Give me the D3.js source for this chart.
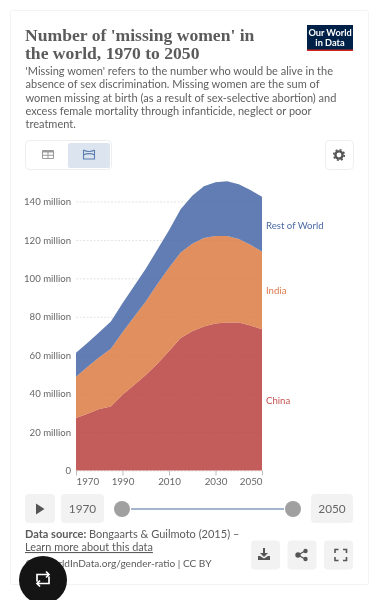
<!DOCTYPE html>
<html><head><meta charset="utf-8">
<script src="https://cdn.jsdelivr.net/npm/d3@7/dist/d3.min.js"></script>
<style>
html,body{margin:0;padding:0;background:#fff;overflow:hidden}
svg{display:block;font-family:Lato,sans-serif;filter:blur(0.35px)}
</style></head><body><svg id="c" width="378" height="600"></svg>
<script>
const years=[1970,1975,1980,1985,1990,1995,2000,2005,2010,2015,2020,2025,2030,2035,2040,2045,2050];
const china=[27.3,29.5,32,33.3,39.4,44.5,49.7,55.5,62,69,72.5,75,76.5,77,77,75.5,73.5];
const india=[21.5,24.5,27,30.1,32.6,35.5,38.3,41.5,43.5,44.5,45.5,46,45.5,45,43.5,42,40.5];
const rest=[12.5,12.5,13,14.1,15,16,17,18,19.5,22.5,25,27,28,28.5,28.5,28.5,28.5];
const seriesNames=["China","India","Rest of World"];
const seriesColors=["#b83e3c","#dc7a40","#4464a4"];
const labelColors=["#c4524f","#dd7a4a","#4c6aa6"];
const labelValues=[36,93,127];
const yTicks=[0,20,40,60,80,100,120,140];
const xTicks=[1970,1990,2010,2030,2050];
const titleLines=["Number of 'missing women' in","the world, 1970 to 2050"];
const subtitleLines=["'Missing women' refers to the number who would be alive in the","absence of sex discrimination. Missing women are the sum of","women missing at birth (as a result of sex-selective abortion) and","excess female mortality through infanticide, neglect or poor","treatment."];

const svg=d3.select("#c");
const x=d3.scaleLinear().domain([1970,2050]).range([76,262]);
const y=d3.scaleLinear().domain([0,140]).range([470.5,201.5]);
const txt=(s,px,py,size,fill,o={})=>svg.append("text").attr("x",px).attr("y",py).attr("font-size",size).attr("fill",fill)
  .attr("text-anchor",o.anchor||"start").attr("font-weight",o.weight||400).attr("font-family",o.family||null).text(s);
const box=(px,py,w,h,o={})=>svg.append("rect").attr("x",px).attr("y",py).attr("width",w).attr("height",h).attr("rx",o.rx==null?4:o.rx)
  .attr("fill",o.fill||"#f2f2f2").attr("stroke",o.stroke||"none");

// card
box(10.5,10.5,358,574,{fill:"#fff",stroke:"#f3f3f3",rx:2});

// header
titleLines.forEach((t,i)=>txt(t,25,40.5+i*18.3,17.6,"#5b5b5b",{weight:700,family:"'Liberation Serif',serif"}));
subtitleLines.forEach((t,i)=>txt(t,25.5,75+i*13.3,11,"#5f5f5f"));
box(307,25,46,26,{fill:"#002147",rx:0});
box(307,49.5,46,1.5,{fill:"#ce261e",rx:0});
txt("Our World",330,36,9.2,"#fff",{anchor:"middle",weight:700});
txt("in Data",330,46,9.2,"#fff",{anchor:"middle",weight:700});

// tabs
box(25.5,140.5,86,29,{fill:"#fff",stroke:"#eeeeee"});
box(68,143,42,25,{fill:"#dce4ef",rx:2});
box(325.5,140.5,28,29,{fill:"#fff",stroke:"#eeeeee"});
// table icon
box(42,150,12,9,{fill:"#9a9a9a",rx:1});
svg.append("path").attr("d","M43 152.500h4.500v2.300h-4.500zM48.500 152.500h4.500v2.300h-4.500zM43 155.800h4.500v2.200h-4.500zM48.500 155.800h4.500v2.200h-4.500z").attr("fill","#fff");
// chart icon
svg.append("path").attr("d","M83.500 150v9h11V150M83.500 150c3 2 8 2 11 0M83.500 155c3-1.800 8-1.800 11 0").attr("fill","none").attr("stroke","#5b7fae").attr("stroke-width",1.1);
// gear
svg.append("circle").attr("cx",339).attr("cy",155).attr("r",3.6).attr("fill","none").attr("stroke","#555").attr("stroke-width",2.4);
svg.append("circle").attr("cx",339).attr("cy",155).attr("r",5.3).attr("fill","none").attr("stroke","#555").attr("stroke-width",1.6).attr("stroke-dasharray","2 2.16");

// gridlines + y axis
const yAxis=svg.append("g").attr("transform","translate(76,0)")
  .call(d3.axisLeft(y).tickValues(yTicks).tickSize(0).tickPadding(5).tickFormat(d=>d===0?"0":d+" million"));
yAxis.select(".domain").remove();
yAxis.selectAll("text").attr("font-size",9.6).attr("fill","#666").attr("font-family","Lato,sans-serif");
yAxis.selectAll("line").attr("x2",186).attr("stroke","#e3e3e3").attr("stroke-dasharray","2 1.500");

// stacked areas
const rows=years.map((yr,i)=>({year:yr,"China":china[i],"India":india[i],"Rest of World":rest[i]}));
const stacked=d3.stack().keys(seriesNames)(rows);
const area=d3.area().x(d=>x(d.data.year)).y0(d=>y(d[0])).y1(d=>y(d[1]));
svg.append("g").selectAll("path").data(stacked).join("path")
  .attr("d",area).attr("fill",(d,i)=>seriesColors[i]).attr("fill-opacity",.84);

// x axis
const xAxis=svg.append("g").attr("transform","translate(0,470.5)")
  .call(d3.axisBottom(x).tickValues(xTicks).tickSize(5).tickPadding(3).tickFormat(d3.format("d")));
xAxis.select(".domain").remove();
xAxis.selectAll("line").attr("stroke","#bdbdbd");
xAxis.selectAll("text").attr("font-size",9.8).attr("fill","#666").attr("font-family","Lato,sans-serif")
  .attr("text-anchor",d=>d===1970?"start":d===2050?"end":"middle");

// series labels
seriesNames.forEach((n,i)=>txt(n,266,y(labelValues[i])+2.5,9.6,labelColors[i]));

// timeline
box(25,494,30,29);
svg.append("path").attr("d","M36 503.500l8.500 5.500-8.500 5.500z").attr("fill","#555");
box(61,494,43,29);
txt("1970",82.500,513,11.800,"#666",{anchor:"middle"});
svg.append("line").attr("x1",131).attr("x2",284).attr("y1",509).attr("y2",509).attr("stroke","#a4b6cd").attr("stroke-width",2);
[122,293].forEach(c=>svg.append("circle").attr("cx",c).attr("cy",509).attr("r",8).attr("fill","#a0a0a0"));
box(311,494,42,29);
txt("2050",332,513,11.800,"#666",{anchor:"middle"});

// footer
const src=txt("",25,538,11,"#5b5b5b");
src.append("tspan").attr("font-weight",700).text("Data source: ");
src.append("tspan").text("Bongaarts & Guilmoto (2015) –");
txt("Learn more about this data",25,551,10.900,"#5b5b5b").attr("text-decoration","underline");
txt("OurWorldInData.org/gender-ratio | CC BY",25.500,567,10.100,"#5b5b5b");
[251,287.500,324].forEach(b=>box(b,540.500,29,29));
svg.append("path").attr("d","M263 548h2v5h3l-4 4-4-4h3zM258 556l2 0 4 2.500 4-2.500 2 0v4h-12z").attr("fill","#555");
svg.append("path").attr("d","M298 555l7-4M298 555l7 4").attr("stroke","#555").attr("stroke-width",1.400);
[[298,555,2.700],[305.500,551,2.200],[305.500,559,2.200]].forEach(c=>svg.append("circle").attr("cx",c[0]).attr("cy",c[1]).attr("r",c[2]).attr("fill","#555"));
svg.append("path").attr("d","M335 553v-3.500h3.500M343 549.500h3.500v3.500M346.500 557v3.500h-3.500M338.500 560.500h-3.500v-3.500").attr("fill","none").attr("stroke","#555").attr("stroke-width",1.600);

// floating button
svg.append("circle").attr("cx",43).attr("cy",580).attr("r",24).attr("fill","#141414");
svg.append("path").attr("d","M37 582v-7h12M46 572l3 3-3 3M49 577v7h-12M40 581l-3 3 3 3")
  .attr("transform","translate(0,-0.500)").attr("fill","none").attr("stroke","#fff").attr("stroke-width",1.700);
</script></body></html>
